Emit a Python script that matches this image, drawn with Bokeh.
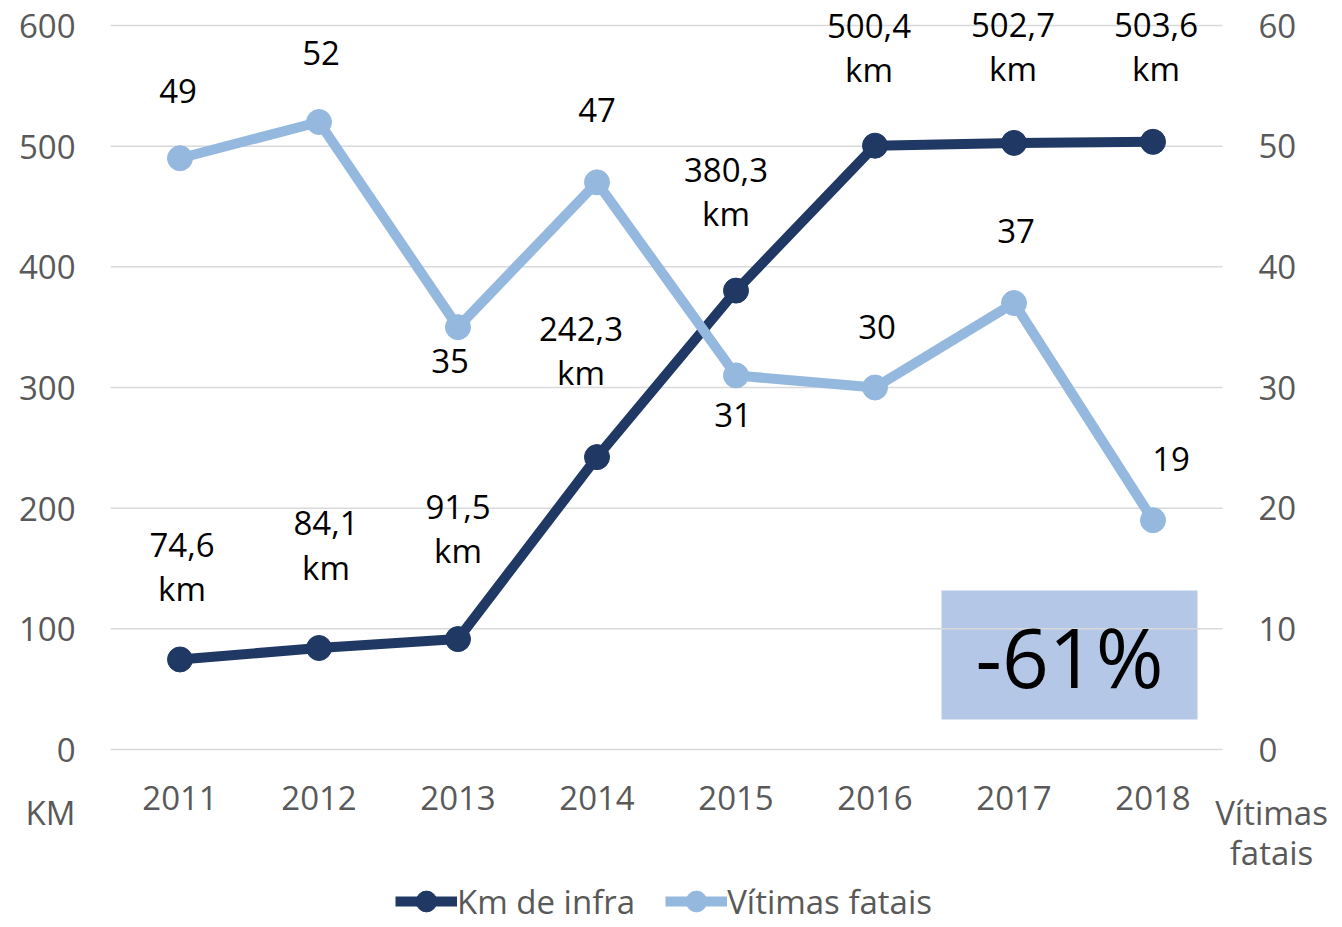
from bokeh.plotting import figure
from bokeh.models import (Range1d, FixedTicker, Legend, LegendItem,
                          Label, ColumnDataSource, BoxAnnotation)
from bokeh.embed import file_html
from bokeh.resources import INLINE
from bokeh.core.properties import value

# ---- data ----
years = ["2011", "2012", "2013", "2014", "2015", "2016", "2017", "2018"]
km_infra = [74.6, 84.1, 91.5, 242.3, 380.3, 500.4, 502.7, 503.6]
vitimas = [49, 52, 35, 47, 31, 30, 37, 19]
km_labels = ["74,6\nkm", "84,1\nkm", "91,5\nkm", "242,3\nkm", "380,3\nkm",
             "500,4\nkm", "502,7\nkm", "503,6\nkm"]
vit_labels = ["49", "52", "35", "47", "31", "30", "37", "19"]
left_ticks = [0, 100, 200, 300, 400, 500, 600]
right_ticks = [0, 10, 20, 30, 40, 50, 60]
left_title = "KM"
right_title = "Vítimas\nfatais"
change_text = "-61%"

# ---- styles / layout ----
NAVY = "#203864"
LIGHT = "#95B8DF"
GREY = "#595959"
FONT = "Open Sans"
FS = "33px"
W, H = 1342, 927
FRAME_LEFT = 110          # px where the plotting band starts
FRAME_RIGHT = 1222        # px where the plotting band ends
TOP_PX, ZERO_PX = 25, 749  # px of top gridline and zero line
n = len(years)
step_px = (FRAME_RIGHT - FRAME_LEFT) / n
ppu = (ZERO_PX - TOP_PX) / (left_ticks[-1] - left_ticks[0])
ratio = right_ticks[-1] / left_ticks[-1]


def ypx(py):  # screen px -> left-axis data value
    return (ZERO_PX - py) / ppu


def xpx(px):  # screen px -> x data value
    return -0.5 + (px - FRAME_LEFT) / step_px


km_dx = [2, 7, 0, -16, -10, -6, -1, 3]
km_dy = [-93, -103, -111, -107, -99, -98, -96, -95]
vit_dx = [-2, 2, -8, 0, -3, 2, 2, 18]
vit_dy = [-67, -69, 34, -72, 40, -61, -72, -61]

xs = list(range(n))
y0, y1 = ypx(H), ypx(0)

p = figure(width=W, height=H, x_range=Range1d(-0.5, xpx(W)),
           y_range=Range1d(y0, y1), output_backend="svg",
           toolbar_location=None, min_border_left=FRAME_LEFT,
           min_border_right=0, min_border_top=0, min_border_bottom=0)
p.outline_line_color = None
p.background_fill_color = "white"
p.extra_y_ranges = {"v": Range1d(y0 * ratio, y1 * ratio)}
p.xaxis.visible = False
p.xgrid.grid_line_color = None
p.ygrid.grid_line_color = None

# left axis (real) incl. its title placed as a label below the zero line
ax = p.yaxis[0]
km_title_y = ypx(812)
ax.ticker = FixedTicker(ticks=left_ticks + [km_title_y])
ax.major_label_overrides = {km_title_y: left_title}
ax.axis_line_color = None
ax.major_tick_line_color = None
ax.minor_tick_line_color = None
ax.major_tick_out = 0
ax.major_label_text_font = FONT
ax.major_label_text_font_size = FS
ax.major_label_text_color = GREY
ax.major_label_standoff = 35

# horizontal gridlines across the category band
p.segment(x0=xs[0] - 0.5, x1=xs[-1] + 0.5, y0=left_ticks, y1=left_ticks,
          line_color="#d9d9d9", line_width=1.5)

# x tick labels
p.text(x=xs, y=ypx(797), text=years, text_align="center",
       text_baseline="middle", text_font=value(FONT), text_font_size=FS,
       text_color=GREY)
# right axis tick labels
p.text(x=xpx(1258), y=right_ticks, text=[str(t) for t in right_ticks],
       text_align="left", text_baseline="middle", text_font=value(FONT),
       text_font_size=FS, text_color=GREY, y_range_name="v")
p.text(x=xpx(1271), y=ypx(832), text=[right_title], text_align="center",
       text_baseline="middle", text_font=value(FONT), text_font_size=FS,
       text_color=GREY, text_line_height=0.9)

# percent box
box = BoxAnnotation(left=xpx(941), right=xpx(1197), bottom=ypx(719),
                    top=ypx(590), fill_color="#B4C7E7", fill_alpha=1.0,
                    line_color=None, level="underlay")
p.add_layout(box)
p.add_layout(Label(x=xpx(1069), y=ypx(655), text=change_text,
                   text_align="center", text_baseline="middle",
                   text_font=FONT, text_font_size="82px", text_color="black"))

src = ColumnDataSource(dict(x=xs, km=km_infra, v=vitimas, kml=km_labels,
                            vl=vit_labels, kdx=km_dx, kdy=km_dy,
                            vdx=vit_dx, vdy=vit_dy))

l1 = p.line("x", "km", source=src, color=NAVY, line_width=10)
c1 = p.scatter("x", "km", source=src, size=25, color=NAVY)
l2 = p.line("x", "v", source=src, color=LIGHT, line_width=10, y_range_name="v")
c2 = p.scatter("x", "v", source=src, size=25, color=LIGHT, y_range_name="v")

p.text("x", "km", text="kml", source=src, x_offset="kdx", y_offset="kdy",
       text_align="center", text_baseline="middle", text_font=value(FONT),
       text_font_size=FS, text_color="black", text_line_height=0.98)
p.text("x", "v", text="vl", source=src, x_offset="vdx", y_offset="vdy",
       text_align="center", text_baseline="middle", text_font=value(FONT),
       text_font_size=FS, text_color="black", y_range_name="v")

legend = Legend(items=[LegendItem(label="Km de infra", renderers=[l1, c1]),
                       LegendItem(label="Vítimas fatais", renderers=[l2, c2])],
                orientation="horizontal", location=(395 - FRAME_LEFT, 0),
                glyph_width=62, glyph_height=52, label_standoff=0, spacing=30,
                padding=0, margin=0, border_line_color=None,
                background_fill_alpha=0, label_text_font=FONT,
                label_text_font_size=FS, label_text_color=GREY)
p.add_layout(legend)

open("out.html", "w").write(file_html(p, INLINE))
